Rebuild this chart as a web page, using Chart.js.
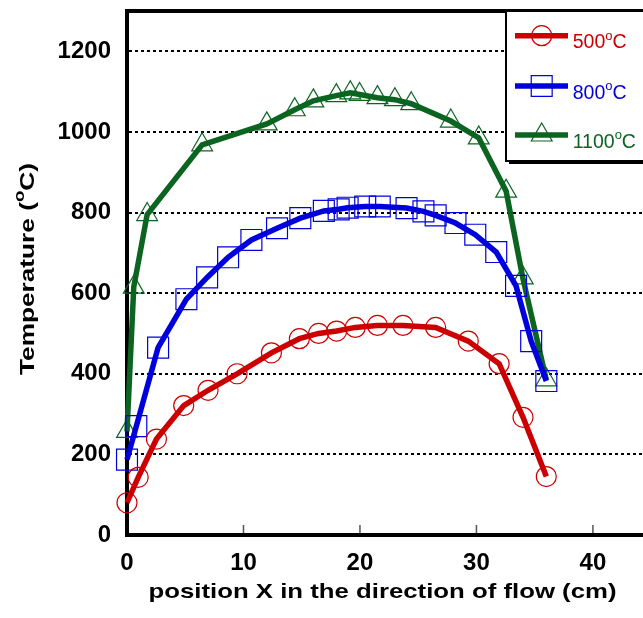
<!DOCTYPE html>
<html>
<head>
<meta charset="utf-8">
<script src="https://cdn.jsdelivr.net/npm/chart.js@4/dist/chart.umd.min.js"></script>
<style>
  html, body { margin: 0; padding: 0; background: #fff; }
  canvas { display: block; }
</style>
</head>
<body>
<canvas id="chart" width="643" height="618"></canvas>
<script>
// tick labels
const xTicks = [0, 10, 20, 30, 40];
const yTicks = [0, 200, 400, 600, 800, 1000, 1200];

// furnace set temperatures (legend)
const seriesNames = ['500', '800', '1100'];

// position X (cm) / temperature (°C)
const x500 = [0, 0.96, 2.53, 4.87, 6.96, 9.45, 12.4, 14.8, 16.45, 18.0, 19.6, 21.5, 23.7, 26.5, 29.3, 31.95, 34.0, 36.0];
const t500 = [80, 143, 238, 321, 359, 400, 452, 487, 500, 506, 515, 520, 520, 515, 481, 425, 292, 145];

const x800 = [0, 0.8, 2.67, 5.1, 6.88, 8.68, 10.68, 12.88, 14.88, 16.9, 18.17, 18.94, 20.45, 21.7, 24.0, 25.45, 26.5, 28.2, 29.9, 31.7, 33.4, 34.7, 36.0];
const t800 = [187, 270, 465, 585, 639, 689, 732, 761, 786, 804, 808, 812, 815, 815, 811, 803, 793, 774, 745, 702, 618, 481, 382];

const x1100 = [0, 0.58, 1.73, 6.45, 12.0, 14.4, 16.0, 17.97, 19.17, 19.97, 21.5, 23.0, 24.4, 27.8, 30.2, 32.55, 33.98, 36.0];
const t1100 = [257, 615, 795, 968, 1020, 1055, 1077, 1090, 1097, 1093, 1085, 1080, 1070, 1027, 985, 853, 638, 385];

const RED = '#cc0000';
const BLUE = '#0000dd';
const GREEN = '#0b6420';

function series(label, xs, ys, color, style, radius) {
  return {
    label: label,
    data: xs.map((x, i) => ({ x: x, y: ys[i] })),
    showLine: true,
    tension: 0,
    borderColor: color,
    borderWidth: 5.5,
    pointStyle: style,
    pointRadius: radius,
    pointBorderWidth: 1.2,
    pointBorderColor: color,
    pointBackgroundColor: 'rgba(0,0,0,0)',
    clip: false
  };
}

const tickFont = { family: '"Liberation Sans", Arial, sans-serif', size: 24, weight: 'bold' };

const decor = {
  id: 'decor',
  afterDraw(chart) {
    const { ctx, chartArea: a, scales: { x } } = chart;
    ctx.save();

    // top frame line
    ctx.strokeStyle = '#000';
    ctx.lineWidth = 4;
    ctx.beginPath();
    ctx.moveTo(a.left - 2, a.top);
    ctx.lineTo(a.right, a.top);
    ctx.stroke();

    // small inward ticks on the x axis
    ctx.strokeStyle = '#555';
    ctx.lineWidth = 1.5;
    xTicks.slice(1).forEach(v => {
      const px = x.getPixelForValue(v);
      ctx.beginPath();
      ctx.moveTo(px, a.bottom - 2);
      ctx.lineTo(px, a.bottom - 10);
      ctx.stroke();
    });

    // x axis title
    ctx.fillStyle = '#000';
    ctx.textBaseline = 'alphabetic';
    ctx.textAlign = 'left';
    ctx.font = 'bold 21px "Liberation Sans", Arial, sans-serif';
    const xt = 'position X in the direction of flow (cm)';
    const xw = ctx.measureText(xt).width;
    ctx.save();
    ctx.translate(382.5, 597.5);
    ctx.scale(468 / xw, 1);
    ctx.fillText(xt, -xw / 2, 0);
    ctx.restore();

    // y axis title with superscript o
    const big = 'bold 21px "Liberation Sans", Arial, sans-serif';
    const small = 'bold 15px "Liberation Sans", Arial, sans-serif';
    ctx.font = big;
    const w1 = ctx.measureText('Temperature (').width;
    const w3 = ctx.measureText('C)').width;
    ctx.font = small;
    const w2 = ctx.measureText('o').width;
    const W = w1 + w2 + w3;
    ctx.save();
    ctx.translate(34, 269);
    ctx.rotate(-Math.PI / 2);
    ctx.scale(212 / W, 1);
    let cx = -W / 2;
    ctx.font = big;
    ctx.fillText('Temperature (', cx, 0);
    cx += w1;
    ctx.font = small;
    ctx.fillText('o', cx, -10);
    cx += w2;
    ctx.font = big;
    ctx.fillText('C)', cx, 0);
    ctx.restore();

    // legend box
    const bx = 506, by = 11, bw = 150, bh = 150;
    ctx.fillStyle = '#000';
    ctx.fillRect(bx + 3, by + 3, bw, bh);
    ctx.fillStyle = '#fff';
    ctx.fillRect(bx, by, bw, bh);
    ctx.strokeStyle = '#000';
    ctx.lineWidth = 2;
    ctx.strokeRect(bx, by, bw, bh);

    const rows = [35.7, 86, 135];
    chart.data.datasets.forEach((ds, i) => {
      const ly = rows[i];
      ctx.strokeStyle = ds.borderColor;
      ctx.lineWidth = 5.5;
      ctx.beginPath();
      ctx.moveTo(515, ly);
      ctx.lineTo(568, ly);
      ctx.stroke();

      ctx.fillStyle = 'rgba(0,0,0,0)';
      ctx.strokeStyle = ds.pointBorderColor;
      ctx.lineWidth = ds.pointBorderWidth;
      Chart.helpers.drawPoint(ctx, {
        pointStyle: ds.pointStyle,
        radius: ds.pointRadius,
        rotation: 0,
        borderWidth: ds.pointBorderWidth
      }, 541.7, ly);

      ctx.fillStyle = ds.borderColor;
      ctx.font = '19.5px "Liberation Sans", Arial, sans-serif';
      let tx = 572.7;
      const base = ly + 12.6;
      ctx.fillText(seriesNames[i], tx, base);
      tx += ctx.measureText(seriesNames[i]).width;
      ctx.font = '13px "Liberation Sans", Arial, sans-serif';
      ctx.fillText('o', tx, base - 8.3);
      tx += ctx.measureText('o').width;
      ctx.font = '19.5px "Liberation Sans", Arial, sans-serif';
      ctx.fillText('C', tx, base);
    });

    ctx.restore();
  }
};

new Chart(document.getElementById('chart'), {
  type: 'scatter',
  data: {
    datasets: [
      series('500', x500, t500, RED, 'circle', 10),
      series('800', x800, t800, BLUE, 'rect', 14.8),
      series('1100', x1100, t1100, GREEN, 'triangle', 12)
    ]
  },
  options: {
    responsive: false,
    animation: false,
    devicePixelRatio: 1,
    layout: { autoPadding: false, padding: { top: 11, left: 0, right: 0, bottom: 0 } },
    plugins: {
      legend: { display: false },
      tooltip: { enabled: false }
    },
    scales: {
      x: {
        type: 'linear',
        min: 0,
        max: 44.3,
        afterBuildTicks: s => { s.ticks = xTicks.map(v => ({ value: v })); },
        afterFit: s => { s.height = 83; s.paddingLeft = 0; s.paddingRight = 0; },
        grid: { display: false, drawTicks: false },
        border: { display: true, color: '#000', width: 4 },
        ticks: { font: tickFont, color: '#000', padding: 14, maxRotation: 0, callback: v => String(v) }
      },
      y: {
        type: 'linear',
        min: 0,
        max: 1300,
        afterBuildTicks: s => { s.ticks = yTicks.map(v => ({ value: v })); },
        afterFit: s => { s.width = 127; s.paddingTop = 0; s.paddingBottom = 0; },
        grid: {
          drawTicks: false,
          lineWidth: 2,
          color: c => (c.tick && c.tick.value === 0) ? 'rgba(0,0,0,0)' : '#000'
        },
        border: { display: true, color: '#000', width: 4, dash: [3, 3] },
        ticks: { font: tickFont, color: '#000', padding: 16, callback: v => String(v) }
      }
    }
  },
  plugins: [decor]
});
</script>
</body>
</html>
